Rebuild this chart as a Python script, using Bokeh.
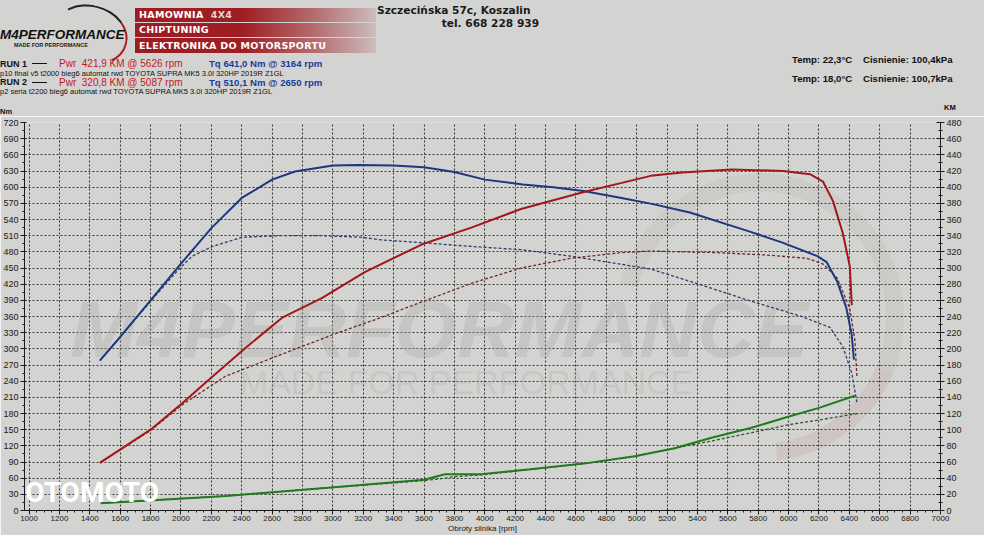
from bokeh.plotting import figure
from bokeh.models import Range1d, LinearAxis, FixedTicker, Label, Div
from bokeh.layouts import column
from bokeh.embed import file_html
from bokeh.resources import INLINE

# ---------------- data ----------------
rpm_ticks = list(range(1000, 7001, 200))
nm_ticks = list(range(0, 721, 30))
km_ticks = list(range(0, 481, 20))

run1_tq_rpm = [1466, 1600, 1800, 2000, 2200, 2400, 2600, 2750, 3000, 3164, 3400, 3600, 3800, 4000,
               4250, 4450, 4650, 4900, 5100, 5350, 5750, 5960, 6190, 6250, 6320, 6380, 6415, 6430]
run1_tq_nm = [278, 322, 390, 458, 524, 580, 614, 629, 640, 641, 640, 637, 628, 614,
              605, 600, 593, 580, 569, 553, 517, 497, 472, 461, 425, 376, 327, 280]

run1_pw_rpm = [1466, 1800, 2010, 2210, 2430, 2670, 2930, 3210, 3584, 3911, 4239, 4652, 4895, 5092,
               5300, 5626, 5964, 6141, 6226, 6292, 6357, 6403, 6416]
run1_pw_km = [59, 100, 133, 166, 202, 239, 263, 295, 329, 350, 373, 394, 405, 414,
              418, 422, 420, 416, 407, 383, 343, 302, 254]

run2_tq_rpm = [1466, 1800, 1990, 2075, 2207, 2403, 2650, 2928, 3190, 3321, 3584, 3911, 4239, 4567,
               4895, 5092, 5354, 5747, 6075, 6272, 6357, 6416, 6449]
run2_tq_nm = [278, 388, 449, 472, 490, 507, 510, 510, 507, 502, 497, 490, 484, 472,
              457, 448, 425, 389, 361, 340, 304, 255, 201]

run2_pw_rpm = [1466, 1800, 2010, 2292, 2550, 2797, 3050, 3321, 3584, 3911, 4239, 4567, 4895, 5087,
               5531, 5859, 6121, 6226, 6318, 6403, 6436, 6450]
run2_pw_km = [59, 99, 131, 166, 185, 203, 221, 239, 258, 281, 300, 312, 319, 321,
              319, 316, 312, 305, 288, 250, 211, 165]

run1_loss_rpm = [1472, 2298, 2967, 3600, 3700, 3741, 3977, 4300, 4652, 4987, 5250, 5492, 5750, 5997, 6200, 6436]
run1_loss_km = [9, 18, 28, 38, 43, 45, 45, 51, 58, 67, 77, 90, 102, 116, 127, 142]

run2_loss_rpm = [1472, 2298, 2967, 3600, 3741, 3806, 3977, 4652, 4987, 5250, 5492, 5750, 5997, 6200, 6456]
run2_loss_km = [9, 18, 28, 37, 40, 42, 44, 58, 67, 77, 86, 96, 106, 112, 120]

run1_label = ["RUN 1", "Pwr&nbsp; 421,9 KM @ 5626 rpm", "Tq 641,0 Nm @ 3164 rpm",
              "p10 final v5 t2000 bieg6 automat rwd TOYOTA SUPRA MK5 3.0l 320HP 2019R Z1GL"]
run2_label = ["RUN 2", "Pwr&nbsp; 320,8 KM @ 5087 rpm", "Tq 510,1 Nm @ 2650 rpm",
              "p2 seria t2200 bieg6 automat rwd TOYOTA SUPRA MK5 3.0l 320HP 2019R Z1GL"]
temps = [("Temp: 22,3&deg;C", "Cisnienie: 100,4kPa"), ("Temp: 18,0&deg;C", "Cisnienie: 100,7kPa")]

BG = "#d3d3d1"
BLUE = "#1d3780"
RED = "#a3161b"
GREEN = "#217a1e"
SANS = "Liberation Sans"
DJV = "DejaVu Sans"

W = 984
HH = 116

# ---------------- header (HTML) ----------------
parts = []


def t(x, y, text, size, font=SANS, style="normal", weight="normal", color="#111111", align="left"):
    pos = "left:%spx" % x if align == "left" else "right:%spx" % (W - x)
    parts.append('<div style="position:absolute;%s;top:%.1fpx;font-family:\'%s\';font-size:%spx;'
                 'font-style:%s;font-weight:%s;color:%s;white-space:nowrap;line-height:1">%s</div>'
                 % (pos, y - size * 0.5, font, size, style, weight, color, text))


grad = "linear-gradient(to right, #9c1c21 0%, #9e1e23 45%, #b56e70 75%, #cdbcbc 100%)"
for top, hgt, txt in ((8, 14, 'HAMOWNIA&nbsp; <span style="color:#e4d4d4">4X4</span>'),
                      (23, 14, "CHIPTUNING"), (38, 15, "ELEKTRONIKA DO MOTORSPORTU")):
    parts.append('<div style="position:absolute;left:135px;top:%spx;width:241px;height:%spx;background:%s;'
                 'font-family:\'%s\';font-weight:bold;font-size:9.5px;color:white;line-height:%spx;'
                 'padding-left:4px;box-sizing:border-box;letter-spacing:0.3px;white-space:nowrap">%s</div>'
                 % (top, hgt, grad, DJV, hgt, txt))

# logo
parts.append('<div style="position:absolute;left:52px;top:5px;width:76px;height:60px;border-radius:50%;'
             'border:2.5px solid transparent;border-top-color:#222;border-right-color:#b0191e;'
             'box-sizing:border-box;transform:rotate(14deg)"></div>')
t(0, 35, "M4PERFORMANCE", 13.5, SANS, "italic", "bold")
t(14, 46, "MADE FOR PERFORMANCE", 5.5, SANS, "normal", "bold", "#222222")

# address
t(377, 10, "Szczeci&#324;ska 57c, Koszalin", 10.6, DJV, "normal", "bold", "#1a1a1a")
t(539, 23.5, "tel. 668 228 939", 10.6, DJV, "normal", "bold", "#1a1a1a", "right")

# run legend
for yy, lab in ((64, run1_label), (82.5, run2_label)):
    t(0, yy, lab[0], 9, SANS, "normal", "bold")
    parts.append('<div style="position:absolute;left:32px;top:%spx;width:15px;height:0;'
                 'border-top:1.5px solid #111"></div>' % (yy - 1))
    t(59, yy, lab[1], 10, SANS, "normal", "normal", "#c8161d")
    t(209, yy, lab[2], 9.6, SANS, "normal", "bold", "#1b3c9c")
    t(0, yy + 9.5, lab[3], 7.5, SANS, "normal", "normal")

for yy, (t1, t2) in zip((60, 79), temps):
    t(792, yy, t1, 9.6, SANS, "normal", "bold")
    t(863, yy, t2, 9.6, SANS, "normal", "bold")

t(0, 112, "Nm", 7.5, SANS, "normal", "bold")
t(944, 108, "KM", 7.5, SANS, "normal", "bold")

html = ('<div style="position:relative;width:%dpx;height:%dpx;background:%s;overflow:hidden">%s</div>'
        % (W, HH, BG, "".join(parts)))
header = Div(text=html, width=W, height=HH, margin=(0, 0, 0, 0), styles={"background-color": BG})

# ---------------- chart ----------------
c = figure(width=W, height=535 - HH, x_range=Range1d(970, 7000), y_range=Range1d(0, 720),
           output_backend="svg", toolbar_location=None,
           min_border_left=14, min_border_right=44, min_border_top=6, min_border_bottom=10)
c.background_fill_color = BG
c.border_fill_color = BG
c.outline_line_color = None
c.extra_y_ranges = {"km": Range1d(0, 480)}

c.xaxis.ticker = FixedTicker(ticks=rpm_ticks, minor_ticks=list(range(1000, 7001, 50)))
c.yaxis.ticker = FixedTicker(ticks=nm_ticks, minor_ticks=list(range(0, 721, 15)))
rax = LinearAxis(y_range_name="km", ticker=FixedTicker(ticks=km_ticks, minor_ticks=list(range(0, 481, 10))))
c.add_layout(rax, "right")

for ax in (c.xaxis[0], c.yaxis[0], rax):
    ax.axis_line_color = "#1a1a1a"
    ax.major_tick_line_color = "#1a1a1a"
    ax.minor_tick_line_color = "#1a1a1a"
    ax.major_label_text_font = SANS
    ax.major_label_text_color = "#1a1a1a"
    ax.major_tick_out = 4
    ax.minor_tick_out = 2
    ax.major_label_standoff = 2
c.yaxis[0].major_label_text_font_size = "9px"
rax.major_label_text_font_size = "9px"
rax.major_tick_in = 4
rax.minor_tick_in = 2
xa = c.xaxis[0]
xa.major_label_text_font_size = "8px"
xa.major_label_standoff = 1
xa.axis_label = "Obroty silnika [rpm]"
xa.axis_label_text_font = SANS
xa.axis_label_text_font_size = "8px"
xa.axis_label_text_font_style = "normal"
xa.axis_label_text_color = "#1a1a1a"
xa.axis_label_standoff = 0

c.xgrid.ticker = FixedTicker(ticks=rpm_ticks)
c.ygrid.ticker = FixedTicker(ticks=nm_ticks)
for g in (c.xgrid[0], c.ygrid[0]):
    g.grid_line_color = "#1f1f1f"
    g.grid_line_dash = "2 2"
    g.grid_line_width = 1.1
    g.grid_line_alpha = 0.85

# watermarks
c.add_layout(Label(x=3700, y=336, text="M4PERFORMANCE", text_font=SANS, text_font_style="bold italic",
                   text_font_size="80px", text_color="#a9a9a7", text_alpha=0.32,
                   text_align="center", text_baseline="middle", level="underlay"))
c.add_layout(Label(x=3880, y=238, text="MADE FOR PERFORMANCE", text_font=SANS,
                   text_font_size="34px", text_color="#a9a9a7", text_alpha=0.28,
                   text_align="center", text_baseline="middle", level="underlay"))
c.arc(x=[5813], y=[358], radius=135, radius_units="screen", start_angle=-0.4, end_angle=2.9,
      line_color="#b3b3b1", line_width=18, line_alpha=0.25, level="underlay")
c.arc(x=[5813], y=[358], radius=135, radius_units="screen", start_angle=-1.45, end_angle=-0.4,
      line_color="#c49494", line_width=18, line_alpha=0.22, level="underlay")

# curves
c.line(run2_tq_rpm, run2_tq_nm, line_color="#2f3f70", line_width=1.3, line_dash="3 2")
c.line(run2_pw_rpm, run2_pw_km, y_range_name="km", line_color="#6e2a2a", line_width=1.3, line_dash="3 2")
c.line(run2_loss_rpm, run2_loss_km, y_range_name="km", line_color="#2f5a2f", line_width=1.3, line_dash="3 2")
c.line(run1_tq_rpm, run1_tq_nm, line_color=BLUE, line_width=2)
c.line(run1_pw_rpm, run1_pw_km, y_range_name="km", line_color=RED, line_width=2)
c.line(run1_loss_rpm, run1_loss_km, y_range_name="km", line_color=GREEN, line_width=2)

c.add_layout(Label(x=975, y=3, text="OTOMOTO", text_font="Roboto", text_font_style="bold",
                   text_font_size="28px", text_color="white", text_align="left", text_baseline="bottom",
                   level="overlay"))

lay = column(header, c, spacing=0)
open("out.html", "w").write(file_html(lay, INLINE))
